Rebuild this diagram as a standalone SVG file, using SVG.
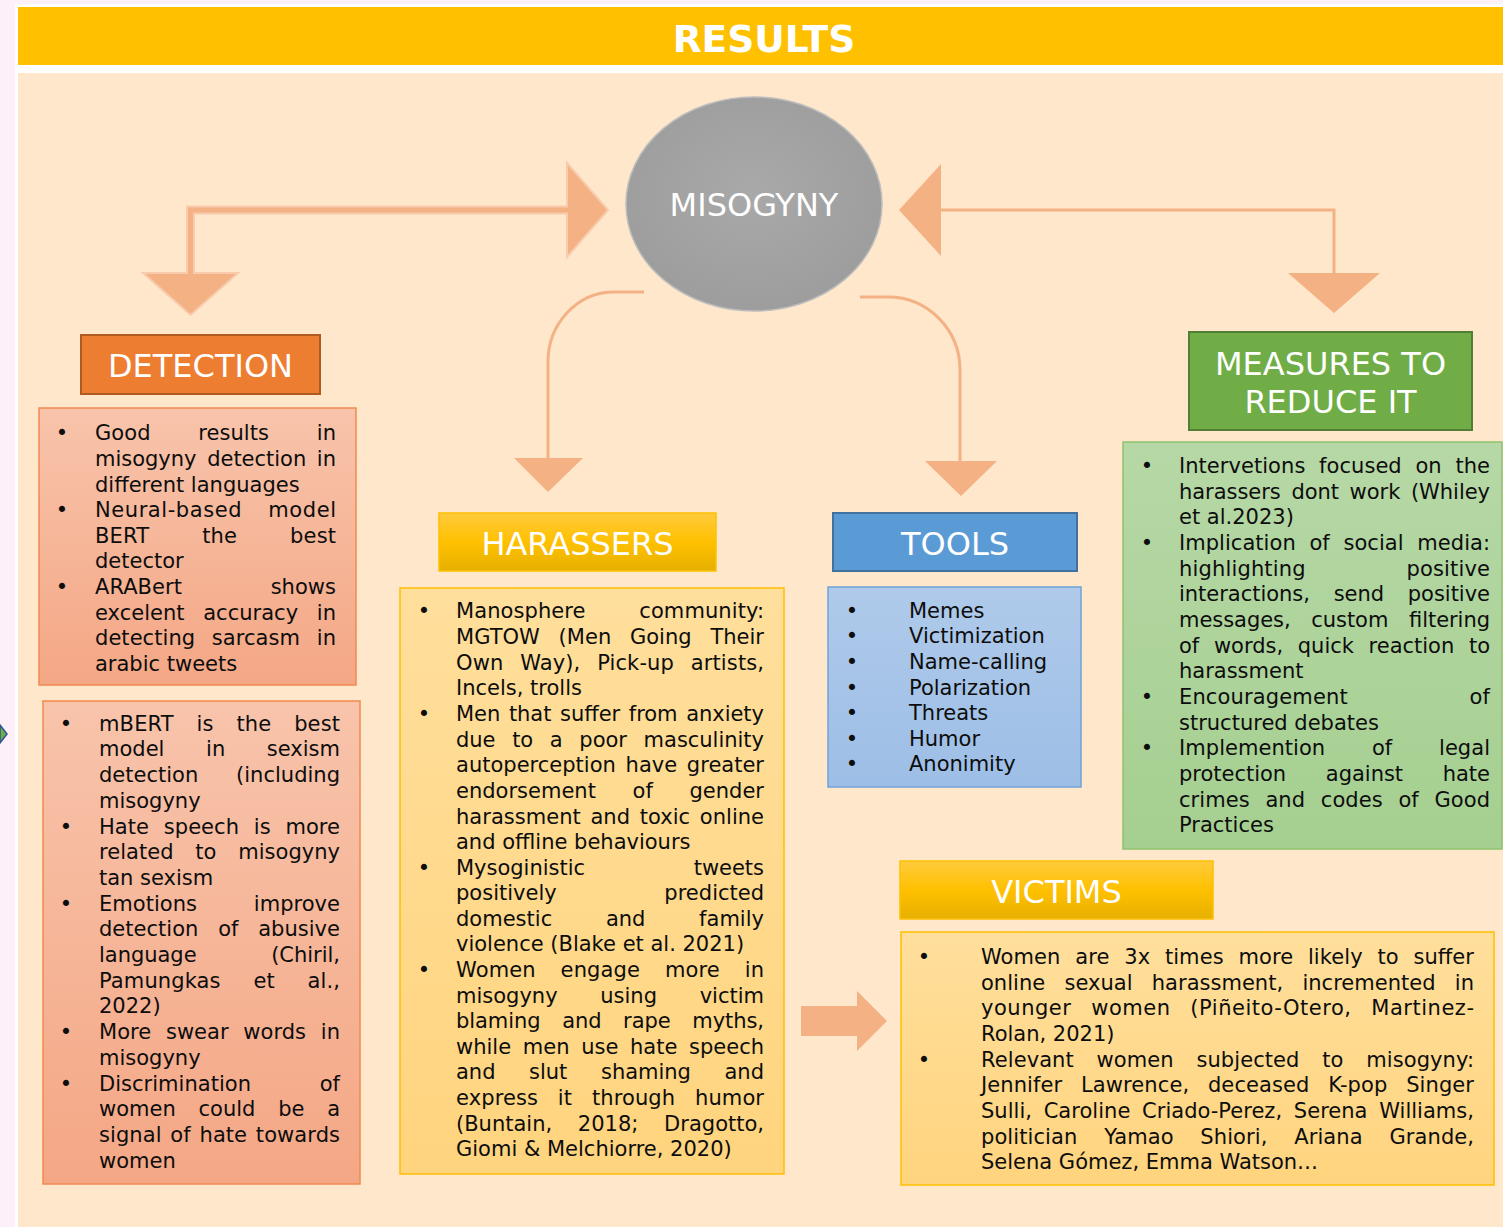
<svg xmlns="http://www.w3.org/2000/svg" width="1503" height="1227" viewBox="0 0 1503 1227">
  <defs>
    <style>
      .t { font-family: "DejaVu Sans", Verdana, sans-serif; font-size: 21px; fill: #0d0d0d; }
      .b { font-family: "DejaVu Sans", Verdana, sans-serif; font-size: 21px; fill: #0d0d0d; text-anchor: middle; }
      .h { font-family: "DejaVu Sans", Verdana, sans-serif; font-size: 32px; fill: #ffffff; text-anchor: middle; }
      .blk { fill: #f4b183; stroke: #f8cbad; stroke-width: 2; }
      .head { fill: #f4b183; stroke: none; }
      .line { fill: none; stroke: #f4b183; stroke-width: 3; }
      .txt { transform: translate(0px, 1px); }
    </style>
    <linearGradient id="gYellowHead" x1="0" y1="0" x2="0" y2="1">
      <stop offset="0" stop-color="#ffcb3d"/>
      <stop offset="0.5" stop-color="#ffc000"/>
      <stop offset="1" stop-color="#e6b000"/>
    </linearGradient>
    <linearGradient id="gYellowBox" x1="0" y1="0" x2="0" y2="1">
      <stop offset="0" stop-color="#ffdf9c"/>
      <stop offset="1" stop-color="#ffd47e"/>
    </linearGradient>
    <linearGradient id="gSalmon" x1="0" y1="0" x2="0" y2="1">
      <stop offset="0" stop-color="#f8c4ab"/>
      <stop offset="1" stop-color="#f4a785"/>
    </linearGradient>
    <linearGradient id="gBlue" x1="0" y1="0" x2="0" y2="1">
      <stop offset="0" stop-color="#afcaea"/>
      <stop offset="1" stop-color="#9dbee6"/>
    </linearGradient>
    <linearGradient id="gGreen" x1="0" y1="0" x2="0" y2="1">
      <stop offset="0" stop-color="#b6d8a6"/>
      <stop offset="1" stop-color="#a5cf90"/>
    </linearGradient>
    <radialGradient id="gGray" cx="0.5" cy="0.45" r="0.6">
      <stop offset="0" stop-color="#a9a9a9"/>
      <stop offset="1" stop-color="#9c9c9c"/>
    </radialGradient>
  </defs>

  <!-- page background, title bar and panel -->
  <rect x="0" y="0" width="1503" height="1227" fill="#fdf0f8"/>
  <rect x="15" y="4" width="1488" height="1223" fill="#ffffff"/>
  <rect x="18" y="7" width="1485" height="58" fill="#ffc000"/>
  <rect x="18" y="73" width="1485" height="1154" fill="#ffe7cc"/>
  <text x="764" y="52" font-family="'DejaVu Sans', Verdana, sans-serif" font-size="37.6" font-weight="bold" fill="#ffffff" text-anchor="middle">RESULTS</text>

  <!-- small mark on the left margin -->
  <polygon points="0,725 7,734 0,743" fill="#70ad47" stroke="#2f5597" stroke-width="1.5"/>

  <!-- connectors -->
  <g id="connectors">
    <path class="blk" d="M187,206.5 H567 V163 L608,210 L567,257 V213.5 H194 V273 H238 L190.5,315 L143,273 H187 Z"/>
    <path class="line" d="M941,210 H1334 V275"/>
    <polygon class="head" points="899,210 941,164 941,256"/>
    <polygon class="head" points="1288,273 1380,273 1334,313"/>
    <path class="line" d="M644,292 H614 A66,70 0 0 0 548,362 V460" stroke-width="2.6" stroke="#f5b88e"/>
    <polygon class="head" points="514,458 583,458 548,492"/>
    <path class="line" d="M860,297 H888 A72,73 0 0 1 960,370 V462"/>
    <polygon class="head" points="925,461 997,461 961,496"/>
    <polygon class="head" points="801,1006 857,1006 857,991 887,1021 857,1051 857,1036 801,1036"/>
  </g>

  <!-- central node -->
  <g id="misogyny">
    <ellipse cx="754" cy="204" rx="128" ry="107" fill="url(#gGray)" stroke="#bdbdbd" stroke-width="1.5"/>
    <text class="h" x="754" y="216" font-size="33">MISOGYNY</text>
  </g>

  <!-- DETECTION -->
  <g id="detection">
    <rect x="81" y="335" width="239" height="59" fill="#ed7d31" stroke="#ae5a21" stroke-width="2"/>
    <text class="h" x="200.5" y="377">DETECTION</text>
  </g>
  <g id="detection-results">
    <rect x="39" y="408" width="317" height="277" fill="url(#gSalmon)" stroke="#f08a50" stroke-width="1.5"/>
    <g class="txt">
    <text class="b" x="62" y="439">•</text>
    <text class="b" x="62" y="516">•</text>
    <text class="b" x="62" y="593">•</text>
    <text class="t" x="95" y="439" textLength="241" lengthAdjust="spacing" word-spacing="41">Good results in</text>
    <text class="t" x="95" y="465" textLength="241" lengthAdjust="spacing" word-spacing="4">misogyny detection in</text>
    <text class="t" x="95" y="491">different languages</text>
    <text class="t" x="95" y="516" textLength="241" lengthAdjust="spacing" word-spacing="19">Neural-based model</text>
    <text class="t" x="95" y="542" textLength="241" lengthAdjust="spacing" word-spacing="46">BERT the best</text>
    <text class="t" x="95" y="567">detector</text>
    <text class="t" x="95" y="593" textLength="241" lengthAdjust="spacing" word-spacing="82">ARABert shows</text>
    <text class="t" x="95" y="619" textLength="241" lengthAdjust="spacing" word-spacing="12">excelent accuracy in</text>
    <text class="t" x="95" y="644" textLength="241" lengthAdjust="spacing" word-spacing="10">detecting sarcasm in</text>
    <text class="t" x="95" y="670">arabic tweets</text>
    </g>
  </g>
  <g id="detection-models">
    <rect x="43" y="701" width="317" height="483" fill="url(#gSalmon)" stroke="#f08a50" stroke-width="1.5"/>
    <g class="txt">
    <text class="b" x="66" y="730">•</text>
    <text class="b" x="66" y="833">•</text>
    <text class="b" x="66" y="910">•</text>
    <text class="b" x="66" y="1038">•</text>
    <text class="b" x="66" y="1090">•</text>
    <text class="t" x="99" y="730" textLength="241" lengthAdjust="spacing" word-spacing="16">mBERT is the best</text>
    <text class="t" x="99" y="755" textLength="241" lengthAdjust="spacing" word-spacing="35">model in sexism</text>
    <text class="t" x="99" y="781" textLength="241" lengthAdjust="spacing" word-spacing="31">detection (including</text>
    <text class="t" x="99" y="807">misogyny</text>
    <text class="t" x="99" y="833" textLength="241" lengthAdjust="spacing" word-spacing="8">Hate speech is more</text>
    <text class="t" x="99" y="858" textLength="241" lengthAdjust="spacing" word-spacing="15">related to misogyny</text>
    <text class="t" x="99" y="884">tan sexism</text>
    <text class="t" x="99" y="910" textLength="241" lengthAdjust="spacing" word-spacing="50">Emotions improve</text>
    <text class="t" x="99" y="935" textLength="241" lengthAdjust="spacing" word-spacing="13">detection of abusive</text>
    <text class="t" x="99" y="961" textLength="241" lengthAdjust="spacing" word-spacing="68">language (Chiril,</text>
    <text class="t" x="99" y="987" textLength="241" lengthAdjust="spacing" word-spacing="26">Pamungkas et al.,</text>
    <text class="t" x="99" y="1012">2022)</text>
    <text class="t" x="99" y="1038" textLength="241" lengthAdjust="spacing" word-spacing="8">More swear words in</text>
    <text class="t" x="99" y="1064">misogyny</text>
    <text class="t" x="99" y="1090" textLength="241" lengthAdjust="spacing" word-spacing="62">Discrimination of</text>
    <text class="t" x="99" y="1115" textLength="241" lengthAdjust="spacing" word-spacing="16">women could be a</text>
    <text class="t" x="99" y="1141" textLength="241" lengthAdjust="spacing" word-spacing="2">signal of hate towards</text>
    <text class="t" x="99" y="1167">women</text>
    </g>
  </g>

  <!-- HARASSERS -->
  <g id="harassers">
    <rect x="439" y="513" width="277" height="58" fill="url(#gYellowHead)" stroke="#ffc000" stroke-width="1.5"/>
    <text class="h" x="577.5" y="555">HARASSERS</text>
  </g>
  <g id="harassers-list">
    <rect x="400" y="588" width="384" height="586" fill="url(#gYellowBox)" stroke="#ffc000" stroke-width="1.5"/>
    <g class="txt">
    <text class="b" x="424" y="617">•</text>
    <text class="b" x="424" y="720">•</text>
    <text class="b" x="424" y="874">•</text>
    <text class="b" x="424" y="976">•</text>
    <text class="t" x="456" y="617" textLength="308" lengthAdjust="spacing" word-spacing="47">Manosphere community:</text>
    <text class="t" x="456" y="643" textLength="308" lengthAdjust="spacing" word-spacing="12">MGTOW (Men Going Their</text>
    <text class="t" x="456" y="669" textLength="308" lengthAdjust="spacing" word-spacing="10">Own Way), Pick-up artists,</text>
    <text class="t" x="456" y="694">Incels, trolls</text>
    <text class="t" x="456" y="720" textLength="308" lengthAdjust="spacing" word-spacing="2">Men that suffer from anxiety</text>
    <text class="t" x="456" y="746" textLength="308" lengthAdjust="spacing" word-spacing="10">due to a poor masculinity</text>
    <text class="t" x="456" y="771" textLength="308" lengthAdjust="spacing" word-spacing="3">autoperception have greater</text>
    <text class="t" x="456" y="797" textLength="308" lengthAdjust="spacing" word-spacing="30">endorsement of gender</text>
    <text class="t" x="456" y="823" textLength="308" lengthAdjust="spacing" word-spacing="3">harassment and toxic online</text>
    <text class="t" x="456" y="848">and offline behaviours</text>
    <text class="t" x="456" y="874" textLength="308" lengthAdjust="spacing" word-spacing="102">Mysoginistic tweets</text>
    <text class="t" x="456" y="899" textLength="308" lengthAdjust="spacing" word-spacing="101">positively predicted</text>
    <text class="t" x="456" y="925" textLength="308" lengthAdjust="spacing" word-spacing="47">domestic and family</text>
    <text class="t" x="456" y="950">violence (Blake et al. 2021)</text>
    <text class="t" x="456" y="976" textLength="308" lengthAdjust="spacing" word-spacing="18">Women engage more in</text>
    <text class="t" x="456" y="1002" textLength="308" lengthAdjust="spacing" word-spacing="36">misogyny using victim</text>
    <text class="t" x="456" y="1027" textLength="308" lengthAdjust="spacing" word-spacing="15">blaming and rape myths,</text>
    <text class="t" x="456" y="1053" textLength="308" lengthAdjust="spacing" word-spacing="5">while men use hate speech</text>
    <text class="t" x="456" y="1078" textLength="308" lengthAdjust="spacing" word-spacing="27">and slut shaming and</text>
    <text class="t" x="456" y="1104" textLength="308" lengthAdjust="spacing" word-spacing="13">express it through humor</text>
    <text class="t" x="456" y="1130" textLength="308" lengthAdjust="spacing" word-spacing="19">(Buntain, 2018; Dragotto,</text>
    <text class="t" x="456" y="1155">Giomi &amp; Melchiorre, 2020)</text>
    </g>
  </g>

  <!-- TOOLS -->
  <g id="tools">
    <rect x="833" y="513" width="244" height="58" fill="#5b9bd5" stroke="#41719c" stroke-width="2"/>
    <text class="h" x="955" y="555">TOOLS</text>
  </g>
  <g id="tools-list">
    <rect x="828" y="587" width="253" height="200" fill="url(#gBlue)" stroke="#6fa3d8" stroke-width="1.5"/>
    <g class="txt">
    <text class="b" x="852" y="617">•</text>
    <text class="b" x="852" y="642">•</text>
    <text class="b" x="852" y="668">•</text>
    <text class="b" x="852" y="694">•</text>
    <text class="b" x="852" y="719">•</text>
    <text class="b" x="852" y="745">•</text>
    <text class="b" x="852" y="770">•</text>
    <text class="t" x="909" y="617">Memes</text>
    <text class="t" x="909" y="642">Victimization</text>
    <text class="t" x="909" y="668">Name-calling</text>
    <text class="t" x="909" y="694">Polarization</text>
    <text class="t" x="909" y="719">Threats</text>
    <text class="t" x="909" y="745">Humor</text>
    <text class="t" x="909" y="770">Anonimity</text>
    </g>
  </g>

  <!-- MEASURES TO REDUCE IT -->
  <g id="measures">
    <rect x="1189" y="332" width="283" height="98" fill="#70ad47" stroke="#507e32" stroke-width="2"/>
    <text class="h" x="1330.5" y="375">MEASURES TO</text>
    <text class="h" x="1330.5" y="413">REDUCE IT</text>
  </g>
  <g id="measures-list">
    <rect x="1123" y="442" width="379" height="407" fill="url(#gGreen)" stroke="#8dc26c" stroke-width="1.5"/>
    <g class="txt">
    <text class="b" x="1147" y="472">•</text>
    <text class="b" x="1147" y="549">•</text>
    <text class="b" x="1147" y="703">•</text>
    <text class="b" x="1147" y="754">•</text>
    <text class="t" x="1179" y="472" textLength="311" lengthAdjust="spacing" word-spacing="7">Intervetions focused on the</text>
    <text class="t" x="1179" y="498" textLength="311" lengthAdjust="spacing" word-spacing="4">harassers dont work (Whiley</text>
    <text class="t" x="1179" y="523">et al.2023)</text>
    <text class="t" x="1179" y="549" textLength="311" lengthAdjust="spacing" word-spacing="7">Implication of social media:</text>
    <text class="t" x="1179" y="575" textLength="311" lengthAdjust="spacing" word-spacing="94">highlighting positive</text>
    <text class="t" x="1179" y="600" textLength="311" lengthAdjust="spacing" word-spacing="17">interactions, send positive</text>
    <text class="t" x="1179" y="626" textLength="311" lengthAdjust="spacing" word-spacing="14">messages, custom filtering</text>
    <text class="t" x="1179" y="652" textLength="311" lengthAdjust="spacing" word-spacing="8">of words, quick reaction to</text>
    <text class="t" x="1179" y="677">harassment</text>
    <text class="t" x="1179" y="703" textLength="311" lengthAdjust="spacing" word-spacing="115">Encouragement of</text>
    <text class="t" x="1179" y="729">structured debates</text>
    <text class="t" x="1179" y="754" textLength="311" lengthAdjust="spacing" word-spacing="40">Implemention of legal</text>
    <text class="t" x="1179" y="780" textLength="311" lengthAdjust="spacing" word-spacing="33">protection against hate</text>
    <text class="t" x="1179" y="806" textLength="311" lengthAdjust="spacing" word-spacing="9">crimes and codes of Good</text>
    <text class="t" x="1179" y="831">Practices</text>
    </g>
  </g>

  <!-- VICTIMS -->
  <g id="victims">
    <rect x="900" y="861" width="313" height="58" fill="url(#gYellowHead)" stroke="#ffc000" stroke-width="1.5"/>
    <text class="h" x="1056.5" y="903">VICTIMS</text>
  </g>
  <g id="victims-list">
    <rect x="901" y="932" width="593" height="253" fill="url(#gYellowBox)" stroke="#ffc000" stroke-width="1.5"/>
    <g class="txt">
    <text class="b" x="924" y="963">•</text>
    <text class="b" x="924" y="1066">•</text>
    <text class="t" x="981" y="963" textLength="493" lengthAdjust="spacing" word-spacing="8">Women are 3x times more likely to suffer</text>
    <text class="t" x="981" y="989" textLength="493" lengthAdjust="spacing" word-spacing="12.6">online sexual harassment, incremented in</text>
    <text class="t" x="981" y="1014" textLength="493" lengthAdjust="spacing" word-spacing="12.6">younger women (Piñeito-Otero, Martinez-</text>
    <text class="t" x="981" y="1040">Rolan, 2021)</text>
    <text class="t" x="981" y="1066" textLength="493" lengthAdjust="spacing" word-spacing="16">Relevant women subjected to misogyny:</text>
    <text class="t" x="981" y="1091" textLength="493" lengthAdjust="spacing" word-spacing="12">Jennifer Lawrence, deceased K-pop Singer</text>
    <text class="t" x="981" y="1117" textLength="493" lengthAdjust="spacing" word-spacing="5">Sulli, Caroline Criado-Perez, Serena Williams,</text>
    <text class="t" x="981" y="1143" textLength="493" lengthAdjust="spacing" word-spacing="20">politician Yamao Shiori, Ariana Grande,</text>
    <text class="t" x="981" y="1168">Selena Gómez, Emma Watson…</text>
    </g>
  </g>
</svg>
